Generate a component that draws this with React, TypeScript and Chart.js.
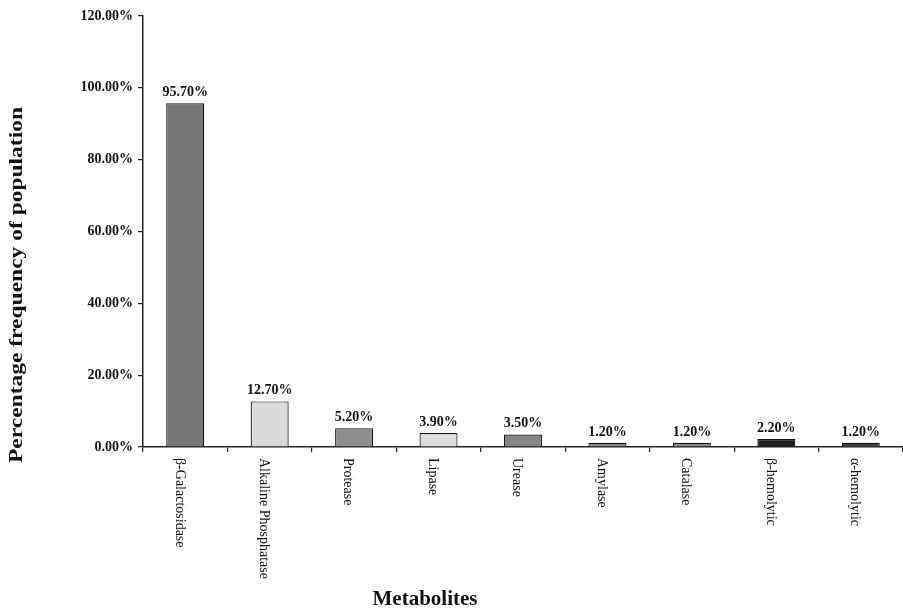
import React, { useEffect, useRef } from "react";
import { Chart, registerables } from "chart.js";

Chart.register(...registerables);

const categories = [
  "β-Galactosidase",
  "Alkaline Phosphatase",
  "Protease",
  "Lipase",
  "Urease",
  "Amylase",
  "Catalase",
  "β-hemolytic",
  "α-hemolytic",
];
const frequencies = [95.7, 12.7, 5.2, 3.9, 3.5, 1.2, 1.2, 2.2, 1.2];
const barColors = [
  "#767676",
  "#dadada",
  "#8e8e8e",
  "#dedede",
  "#858585",
  "#8a8a8a",
  "#8a8a8a",
  "#1e1e1e",
  "#444444",
];
const yTickValues = [0, 20, 40, 60, 80, 100, 120];
const yTitle = "Percentage frequency of population";
const xTitle = "Metabolites";

const SERIF = "'Liberation Serif', 'Times New Roman', serif";

const customText = {
  id: "customText",
  afterDraw(chart: any) {
    const ctx = chart.ctx;
    const meta = chart.getDatasetMeta(0);
    const area = chart.chartArea;
    ctx.save();
    // value labels
    ctx.fillStyle = "#111";
    ctx.font = `bold 14px ${SERIF}`;
    ctx.textAlign = "center";
    ctx.textBaseline = "alphabetic";
    meta.data.forEach((bar: any, i: number) => {
      ctx.fillText(frequencies[i].toFixed(2) + "%", bar.x, bar.y - 7);
    });
    // category labels (rotated clockwise, reading top to bottom)
    ctx.font = `14px ${SERIF}`;
    ctx.textAlign = "left";
    ctx.textBaseline = "middle";
    meta.data.forEach((bar: any, i: number) => {
      ctx.save();
      ctx.translate(bar.x - 6, area.bottom + 11);
      ctx.rotate(Math.PI / 2);
      ctx.fillText(categories[i], 0, 0);
      ctx.restore();
    });
    // y title
    ctx.font = `bold 19px ${SERIF}`;
    ctx.textAlign = "center";
    ctx.textBaseline = "middle";
    ctx.save();
    ctx.translate(17, 285);
    ctx.rotate(-Math.PI / 2);
    const w = ctx.measureText(yTitle).width;
    const target = 356;
    ctx.scale(target / w, 1);
    ctx.fillText(yTitle, 0, 0);
    ctx.restore();
    // x title
    ctx.font = `bold 21px ${SERIF}`;
    ctx.textBaseline = "alphabetic";
    ctx.fillText(xTitle, 425, 605);
    ctx.restore();
  },
};

export default function App() {
  const ref = useRef<HTMLCanvasElement | null>(null);
  useEffect(() => {
    if (!ref.current) return;
    const chart = new Chart(ref.current, {
      type: "bar",
      data: {
        labels: categories,
        datasets: [
          {
            data: frequencies,
            backgroundColor: barColors,
            borderColor: "#111",
            borderWidth: 1.2,
            barPercentage: 0.45,
            categoryPercentage: 1,
          },
        ],
      },
      options: {
        responsive: false,
        animation: false,
        devicePixelRatio: 1,
        layout: { padding: { top: 16, left: 0, right: 0, bottom: 0 } },
        plugins: {
          legend: { display: false },
          tooltip: { enabled: false },
        },
        scales: {
          x: {
            type: "category",
            offset: true,
            grid: {
              display: true,
              offset: true,
              drawOnChartArea: false,
              drawTicks: true,
              tickLength: 5,
              color: "#222",
              lineWidth: 1.2,
            },
            border: { display: true, color: "#222", width: 1.5 },
            ticks: { display: false },
            afterFit: (s: any) => {
              s.height = 162;
            },
          },
          y: {
            min: 0,
            max: 120,
            afterBuildTicks: (s: any) => {
              s.ticks = yTickValues.map((v) => ({ value: v }));
            },
            ticks: {
              callback: (v: any) => Number(v).toFixed(2) + "%",
              font: { family: SERIF, size: 14, weight: "bold" },
              color: "#111",
              padding: 5,
            },
            grid: {
              display: true,
              drawOnChartArea: false,
              drawTicks: true,
              tickLength: 5,
              color: "#222",
              lineWidth: 1.2,
            },
            border: { display: true, color: "#222", width: 1.5 },
            afterFit: (s: any) => {
              s.width = 143;
            },
          },
        },
      },
      plugins: [customText],
    });
    return () => chart.destroy();
  }, []);
  return (
    <div style={{ position: "absolute", left: 0, top: 0, width: 903, height: 609 }}>
      <canvas ref={ref} width={903} height={609} />
    </div>
  );
}
